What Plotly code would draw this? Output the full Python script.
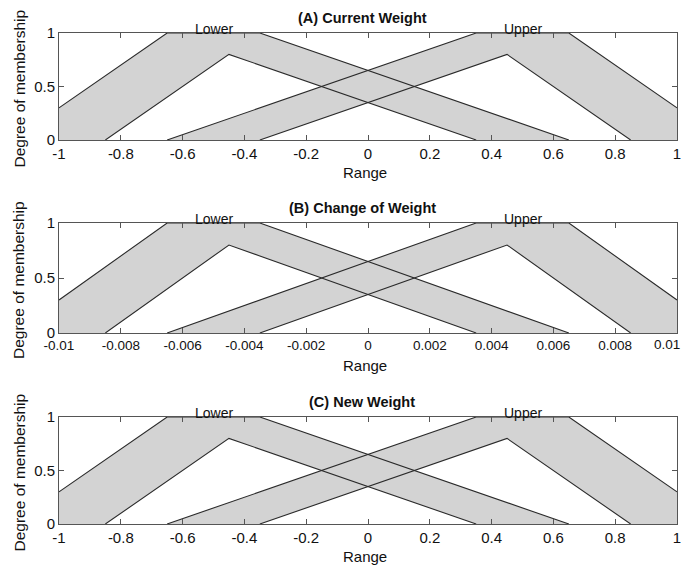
import plotly.graph_objects as go

# ---------------- data ----------------
# Interval type-2 membership functions (normalized range [-1, 1])
lower_umf_x = [-1.0, -0.65, -0.35, 0.65]
lower_umf_y = [0.3, 1.0, 1.0, 0.0]
lower_lmf_x = [-0.85, -0.45, 0.35]
lower_lmf_y = [0.0, 0.8, 0.0]

upper_umf_x = [-0.65, 0.35, 0.65, 1.0]
upper_umf_y = [0.0, 1.0, 1.0, 0.3]
upper_lmf_x = [-0.35, 0.45, 0.85]
upper_lmf_y = [0.0, 0.8, 0.0]

set_labels = ["Lower", "Upper"]
set_label_x = [-0.5, 0.5]

panel_titles = ["(A) Current Weight", "(B) Change of Weight", "(C) New Weight"]
panel_scales = [1.0, 0.01, 1.0]

x_tick_vals = [-1.0, -0.8, -0.6, -0.4, -0.2, 0.0, 0.2, 0.4, 0.6, 0.8, 1.0]
x_tick_labels = [
    ["-1", "-0.8", "-0.6", "-0.4", "-0.2", "0", "0.2", "0.4", "0.6", "0.8", "1"],
    ["-0.01", "-0.008", "-0.006", "-0.004", "-0.002", "0", "0.002", "0.004", "0.006", "0.008", "0.01"],
    ["-1", "-0.8", "-0.6", "-0.4", "-0.2", "0", "0.2", "0.4", "0.6", "0.8", "1"],
]
y_tick_vals = [0, 0.5, 1]
y_tick_labels = ["0", "0.5", "1"]

x_title = "Range"
y_title = "Degree of membership"

# ---------------- layout helpers ----------------
OFF = 8                      # page body margin
W, H = 690, 566 - OFF
FONT = "Liberation Sans, Arial, sans-serif"
FILL = "#d3d3d3"
LINE = "#2a2a2a"
AXIS = "#555555"

def px_x(p):
    return (p - OFF) / W

def px_y(p):
    return 1 - (p - OFF) / H

plot_left, plot_right = 59, 677
panel_tops = [33, 223, 417]
panel_bottoms = [140, 333, 524]
x_tick_font_sizes = [15, 13.5, 15]

fig = go.Figure()
sets = [
    (lower_umf_x, lower_umf_y, lower_lmf_x, lower_lmf_y),
    (upper_umf_x, upper_umf_y, upper_lmf_x, upper_lmf_y),
]

annotations = []
for i in range(3):
    s = panel_scales[i]
    xa = "x" if i == 0 else f"x{i+1}"
    ya = "y" if i == 0 else f"y{i+1}"
    # fills
    for ux, uy, lx, ly in sets:
        px = [ux[0]] + ux + [ux[-1]] + lx[::-1]
        py = [0.0] + uy + [0.0] + ly[::-1]
        fig.add_trace(go.Scatter(
            x=[v * s for v in px] + [px[0] * s], y=py + [py[0]],
            mode="lines", fill="toself", fillcolor=FILL,
            line=dict(width=0, color=FILL), hoverinfo="skip",
            showlegend=False, xaxis=xa, yaxis=ya))
    # outlines
    for ux, uy, lx, ly in sets:
        for xs, ys in [(ux, uy), (lx, ly)]:
            fig.add_trace(go.Scatter(
                x=[v * s for v in xs], y=ys, mode="lines",
                line=dict(width=1.1, color=LINE), hoverinfo="skip",
                showlegend=False, xaxis=xa, yaxis=ya))

    # the right-most label of the small-range panel would be clipped by the
    # window edge, so it is drawn as a right-aligned text instead
    labels = list(x_tick_labels[i])
    edge_label = None
    if i == 1:
        edge_label = labels[-1]
        labels[-1] = ""

    suffix = "" if i == 0 else str(i + 1)
    common = dict(showline=True, mirror="ticks", ticks="inside", ticklen=5,
                  tickcolor=AXIS, linecolor=AXIS, linewidth=1,
                  showgrid=False, zeroline=False, fixedrange=True,
                  automargin=False, ticklabeloverflow="allow")
    fig.update_layout(**{
        f"xaxis{suffix}": dict(
            domain=[px_x(plot_left), px_x(plot_right)],
            range=[-s, s], anchor=ya,
            tickvals=[v * s for v in x_tick_vals], ticktext=labels,
            tickfont=dict(family=FONT, size=x_tick_font_sizes[i], color="#111"),
            **common),
        f"yaxis{suffix}": dict(
            domain=[px_y(panel_bottoms[i]), px_y(panel_tops[i])],
            range=[0, 1], anchor=xa,
            tickvals=y_tick_vals, ticktext=y_tick_labels,
            tickfont=dict(family=FONT, size=15, color="#111"),
            **common),
    })
    if edge_label is not None:
        annotations.append(dict(
            text=edge_label, xref="paper", yref="paper",
            x=px_x(682), y=px_y(panel_bottoms[i] + 11), xanchor="right", yanchor="middle",
            showarrow=False, font=dict(family=FONT, size=x_tick_font_sizes[i], color="#111")))

    mid_y = (panel_tops[i] + panel_bottoms[i]) / 2
    # panel title
    annotations.append(dict(
        text=f"<b>{panel_titles[i]}</b>", xref="paper", yref="paper",
        x=px_x(362), y=px_y(panel_tops[i] - 15), xanchor="center", yanchor="middle",
        showarrow=False, font=dict(family=FONT, size=14.5, color="#111")))
    # set labels
    for lab, lx in zip(set_labels, set_label_x):
        annotations.append(dict(
            text=lab, xref=xa, yref="paper",
            x=lx * s, y=px_y(panel_tops[i] - 4), xanchor="center", yanchor="middle",
            showarrow=False, font=dict(family=FONT, size=14, color="#111")))
    # x title
    annotations.append(dict(
        text=x_title, xref="paper", yref="paper",
        x=px_x(365), y=px_y(panel_bottoms[i] + 32), xanchor="center", yanchor="middle",
        showarrow=False, font=dict(family=FONT, size=15, color="#111")))
    # y title
    annotations.append(dict(
        text=y_title, xref="paper", yref="paper", textangle=-90,
        x=px_x(19), y=px_y(mid_y + 2), xanchor="center", yanchor="middle",
        showarrow=False, font=dict(family=FONT, size=15.5, color="#111")))

fig.update_layout(
    width=W, height=H,
    margin=dict(l=0, r=0, t=0, b=0),
    paper_bgcolor="white", plot_bgcolor="white",
    annotations=annotations,
    showlegend=False,
)

fig.write_html("out.html")
